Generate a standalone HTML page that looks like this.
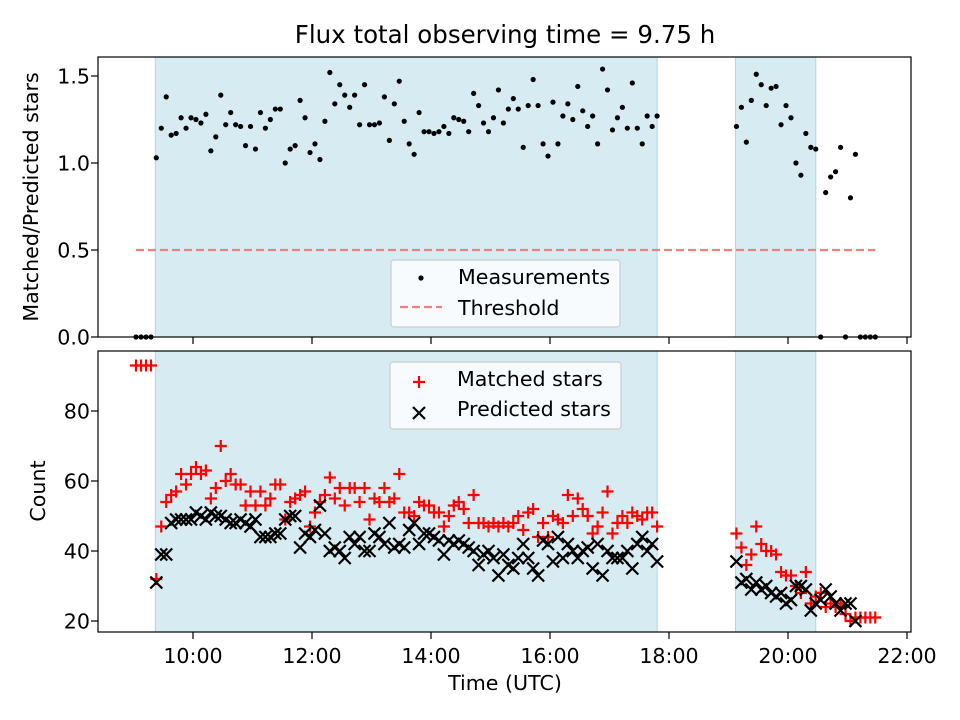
<!DOCTYPE html>
<html><head><meta charset="utf-8"><style>
html,body{margin:0;padding:0;background:#fff}
svg{display:block;font-family:"DejaVu Sans","Liberation Sans",sans-serif}
</style></head><body>
<svg id="chart" width="960" height="720" viewBox="0 0 960 720" xmlns="http://www.w3.org/2000/svg"></svg>
<script>
// minutes after 09:00 UTC
const timesEarly = [2.5,7.6,12.6,17.6];
const times1 = [23,28,33,38,43,48,53,58,63,68,73,78,83,88,93,98,103,108,113,118,123,128,133,138,143,148,153,158,163,168,173,178,183,188,193,198,203,208,213,218,223,228,233,238,243,248,253,258,263,268,273,278,283,288,293,298,303,308,313,318,323,328,333,338,343,348,353,358,363,368,373,378,383,388,393,398,403,408,413,418,423,428,433,438,443,448,453,458,463,468,473,478,483,488,493,498,503,508,513,518,523,528];
const times2 = [608,613,618,623,628,633,638,643,648,653,658,663,668,673,678,683,688,693,698,703,708,713,718,723,728,733,738,743,748];
const ratioEarly = [0,0,0,0];
const ratio1 = [1.03,1.20,1.38,1.16,1.17,1.26,1.20,1.26,1.25,1.23,1.28,1.07,1.15,1.39,1.22,1.29,1.22,1.21,1.10,1.21,1.08,1.29,1.20,1.25,1.31,1.31,1.00,1.08,1.10,1.36,1.26,1.06,1.11,1.02,1.24,1.52,1.34,1.45,1.39,1.32,1.39,1.22,1.45,1.22,1.22,1.23,1.38,1.13,1.34,1.47,1.24,1.11,1.05,1.29,1.18,1.18,1.17,1.18,1.21,1.17,1.26,1.25,1.24,1.18,1.40,1.33,1.23,1.18,1.26,1.42,1.23,1.31,1.37,1.31,1.09,1.33,1.48,1.33,1.11,1.04,1.35,1.11,1.27,1.34,1.25,1.44,1.30,1.21,1.27,1.11,1.54,1.42,1.19,1.26,1.32,1.20,1.46,1.20,1.11,1.27,1.21,1.27];
const ratio2 = [1.21,1.32,1.12,1.36,1.51,1.45,1.33,1.43,1.44,1.22,1.33,1.26,1.00,0.93,1.17,1.09,1.08,0,0.83,0.92,0.95,1.09,0,0.80,1.05,0,0,0,0];
const matchedEarly = [93,93,93,93];
const matched1 = [32,47,54,56,57,62,59,62,64,62,63,55,58,70,60,62,59,59,53,57,53,57,53,55,59,59,49,54,55,56,57,47,51,54,56,61,55,58,53,58,58,54,58,49,55,54,58,54,55,62,51,51,50,54,53,53,51,51,47,50,53,54,52,48,56,48,48,47,48,47,48,47,48,50,46,51,52,44,48,44,50,49,48,56,50,55,52,50,45,47,51,57,45,48,50,48,51,50,49,51,51,47];
const matched2 = [45,41,36,39,47,42,40,40,39,34,33,33,30,28,34,25,27,28,24,25,24,25,22,20,21,21,21,21,21];
const predicted1 = [31,39,39,48,49,49,49,49,51,50,49,51,50,50,49,48,48,49,48,47,49,44,44,44,45,45,49,50,50,41,45,44,46,53,45,40,41,40,38,44,42,44,40,40,45,44,42,48,41,42,41,46,48,42,45,45,44,43,39,43,42,43,42,41,40,36,39,40,38,33,39,36,35,38,42,38,35,33,43,42,37,44,38,42,40,38,40,41,35,42,33,40,38,38,38,40,35,42,44,40,42,37];
const predicted2 = [37,31,32,29,31,29,30,28,27,28,25,26,30,30,29,23,25,26,29,27,25,23,25,25,20,null,null,null,null];
const xTickLabels = ["10:00","12:00","14:00","16:00","18:00","20:00","22:00"];
const xTickMinutes = [60,180,300,420,540,660,780];
const topTicks = [0,0.5,1.0,1.5];
const botTicks = [20,40,60,80];
const shadeSpans = [[22,528],[607,688]];
const threshold = 0.5;

const NS="http://www.w3.org/2000/svg";
const svg=document.getElementById('chart');
const L=98,R=911;
const T1=57,B1=337,T2=351,B2=632;
const FS=20.6;
function xS(m){return 133.5+m*59.5/60;}
function yTop(v){return 337-v*174;}
function yBot(v){return 621-(v-20)*3.5;}
function mk(tag,attrs,parent){const e=document.createElementNS(NS,tag);for(const k in attrs)e.setAttribute(k,attrs[k]);(parent||svg).appendChild(e);return e;}

const title=mk('text',{x:505,y:43,'font-size':24.5,'text-anchor':'middle',fill:'#000'});
title.textContent='Flux total observing time = 9.75 h';



function panel(top,bottom,name){
  const g=mk('g',{});
  
  
  shadeSpans.forEach((s,i)=>{
    const r=mk('rect',{x:xS(s[0]),y:top,width:xS(s[1])-xS(s[0]),height:bottom-top,fill:'#add8e6','fill-opacity':0.5,stroke:'#add8e6','stroke-width':1},g);
    
    
  });
  return g;
}
function frame(g,top,bottom){
  mk('rect',{x:L,y:top,width:R-L,height:bottom-top,fill:'none',stroke:'#000','stroke-width':1.2},g);
  xTickMinutes.forEach(m=>{mk('line',{x1:xS(m),x2:xS(m),y1:bottom,y2:bottom+7,stroke:'#000','stroke-width':1.2},g);});
}

const gTop=panel(T1,B1,'ratio-panel');
const thr=mk('line',{x1:xS(timesEarly[0]),x2:xS(times2[times2.length-1]),y1:yTop(threshold),y2:yTop(threshold),stroke:'#f08080','stroke-width':2.2,'stroke-dasharray':'8,4'},gTop);


function dots(ts,vs){ts.forEach((t,i)=>{const c=mk('circle',{cx:xS(t),cy:yTop(vs[i]),r:2.6,fill:'#000'},gTop);
  
  });}
dots(timesEarly,ratioEarly);dots(times1,ratio1);dots(times2,ratio2);
frame(gTop,T1,B1);
topTicks.forEach(v=>{mk('line',{x1:L-7,x2:L,y1:yTop(v),y2:yTop(v),stroke:'#000','stroke-width':1.2},gTop);
  const t=mk('text',{x:L-8,y:yTop(v)+7.5,'font-size':FS,'text-anchor':'end'},gTop);t.textContent=v.toFixed(1);
  
  });
const yl1=mk('text',{x:0,y:0,'font-size':FS,'text-anchor':'middle',transform:'translate(38,197) rotate(-90)'});
yl1.textContent='Matched/Predicted stars';


const lg1=mk('g',{});


mk('rect',{x:391,y:260,width:229,height:67,rx:3,fill:'#fff','fill-opacity':0.8,stroke:'#ccc','stroke-width':1.2},lg1);
mk('circle',{cx:421,cy:278,r:2.6,fill:'#000'},lg1);
let t1=mk('text',{x:458,y:284,'font-size':FS},lg1);t1.textContent='Measurements';
mk('line',{x1:400,x2:442,y1:307,y2:307,stroke:'#f08080','stroke-width':2.2,'stroke-dasharray':'8,4'},lg1);
let t2=mk('text',{x:458,y:315,'font-size':FS},lg1);t2.textContent='Threshold';

const gBot=panel(T2,B2,'count-panel');
function plus(x,y){const g=mk('g',{},gBot);
  
  
  mk('path',{d:`M${x-6},${y}H${x+6}M${x},${y-6}V${y+6}`,stroke:'#f00','stroke-width':2.2},g);}
function cross(x,y){const g=mk('g',{},gBot);
  
  
  mk('path',{d:`M${x-6},${y-6}L${x+6},${y+6}M${x-6},${y+6}L${x+6},${y-6}`,stroke:'#000','stroke-width':2.2},g);}
[[timesEarly,matchedEarly],[times1,matched1],[times2,matched2]].forEach(([ts,vs])=>ts.forEach((t,i)=>{if(vs[i]!=null)plus(xS(t),yBot(vs[i]));}));
[[times1,predicted1],[times2,predicted2]].forEach(([ts,vs])=>ts.forEach((t,i)=>{if(vs[i]!=null)cross(xS(t),yBot(vs[i]));}));
frame(gBot,T2,B2);
botTicks.forEach(v=>{mk('line',{x1:L-7,x2:L,y1:yBot(v),y2:yBot(v),stroke:'#000','stroke-width':1.2},gBot);
  const t=mk('text',{x:L-8,y:yBot(v)+7.5,'font-size':FS,'text-anchor':'end'},gBot);t.textContent=v;
  
  });
xTickLabels.forEach((s,i)=>{const t=mk('text',{x:xS(xTickMinutes[i]),y:663,'font-size':FS,'text-anchor':'middle'},gBot);t.textContent=s;
  
  });
const yl2=mk('text',{x:0,y:0,'font-size':FS,'text-anchor':'middle',transform:'translate(45,491) rotate(-90)'});
yl2.textContent='Count';


const xl=mk('text',{x:505,y:690,'font-size':FS,'text-anchor':'middle'});
xl.textContent='Time (UTC)';


const lg2=mk('g',{});


mk('rect',{x:390,y:362,width:231,height:67,rx:3,fill:'#fff','fill-opacity':0.8,stroke:'#ccc','stroke-width':1.2},lg2);
mk('path',{d:'M413,382H425M419,376V388',stroke:'#f00','stroke-width':2.2},lg2);
let t3=mk('text',{x:457,y:386,'font-size':FS},lg2);t3.textContent='Matched stars';
mk('path',{d:'M413,407L425,419M413,419L425,407',stroke:'#000','stroke-width':2.2},lg2);
let t4=mk('text',{x:457,y:416,'font-size':FS},lg2);t4.textContent='Predicted stars';
</script>
</body></html>
